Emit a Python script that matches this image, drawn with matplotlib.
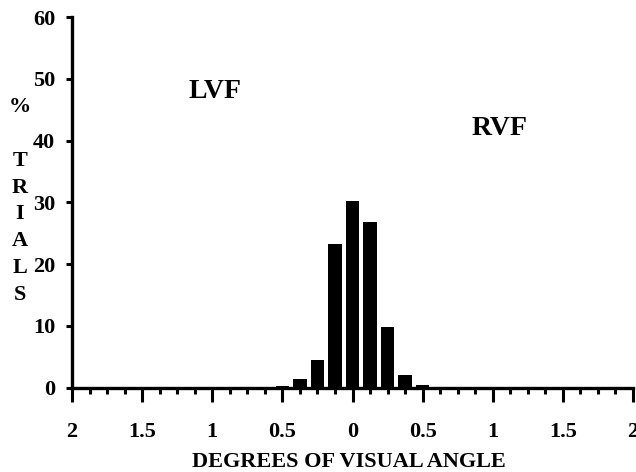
import matplotlib
matplotlib.use("Agg")
import matplotlib.pyplot as plt
import numpy as np

# Data: bin centres (degrees, negative = LVF) and % trials
bin_centers = [-2.0, -1.875, -1.75, -1.625, -1.5, -1.375, -1.25, -1.125, -1.0,
               -0.875, -0.75, -0.625, -0.5, -0.375, -0.25, -0.125, 0.0,
               0.125, 0.25, 0.375, 0.5, 0.625, 0.75, 0.875, 1.0,
               1.125, 1.25, 1.375, 1.5, 1.625, 1.75, 1.875, 2.0]
pct_trials = [0.1, 0.1, 0.1, 0.1, 0.05, 0.05, 0.05, 0.0, 0.0,
              0.0, 0.0, 0.05, 0.25, 1.3, 4.5, 23.2, 30.3,
              26.8, 9.8, 2.0, 0.4, 0.1, 0.05, 0.05, 0.0,
              0.0, 0.0, 0.0, 0.0, 0.0, 0.0, 0.0, 0.0]
x_tick_values = [-2, -1.5, -1, -0.5, 0, 0.5, 1, 1.5, 2]
x_tick_labels = ["2", "1.5", "1", "0.5", "0", "0.5", "1", "1.5", "2"]
y_tick_values = [0, 10, 20, 30, 40, 50, 60]

W, H = 636, 472
fig = plt.figure(figsize=(W / 100, H / 100), dpi=100)
ax = fig.add_axes([72 / W, 1 - 387.5 / H, 561 / W, (387.5 - 17.3) / H])

font = {"family": "Liberation Serif", "weight": "bold"}

ax.bar(bin_centers, pct_trials, width=0.095, color="black", edgecolor="none",
       align="center", zorder=3)

ax.set_xlim(-2, 2)
ax.set_ylim(0, 60)

for s in ["top", "right"]:
    ax.spines[s].set_visible(False)
for s in ["left", "bottom"]:
    ax.spines[s].set_linewidth(2.4)
    ax.spines[s].set_capstyle("projecting")

ax.set_xticks(x_tick_values)
ax.set_xticklabels(x_tick_labels, fontdict=font, fontsize=16)
ax.set_xticks(np.arange(-2, 2.01, 0.125), minor=True)
ax.set_yticks(y_tick_values)
ax.set_yticklabels([str(v) for v in y_tick_values], fontdict=font, fontsize=16)

ax.tick_params(axis="x", which="major", direction="out", length=10, width=2.2, pad=15)
ax.tick_params(axis="x", which="minor", direction="out", length=4.5, width=2.2)
ax.tick_params(axis="y", which="major", direction="out", length=4, width=2.2, pad=8)

ax.text(-0.98, 47.9, "LVF", ha="center", va="center", fontsize=20, **font)
ax.text(1.05, 42.0, "RVF", ha="center", va="center", fontsize=20, **font)

fig.text(20 / W, 1 - 201 / H, "%\n\nT\nR\nI\nA\nL\nS", ha="center", va="center",
         fontsize=16, linespacing=1.45, **font)
fig.text(349 / W, 1 - 462 / H, "DEGREES OF VISUAL ANGLE", ha="center", va="center",
         fontsize=16, **font)

fig.savefig("out.png", dpi=100, facecolor="white")
